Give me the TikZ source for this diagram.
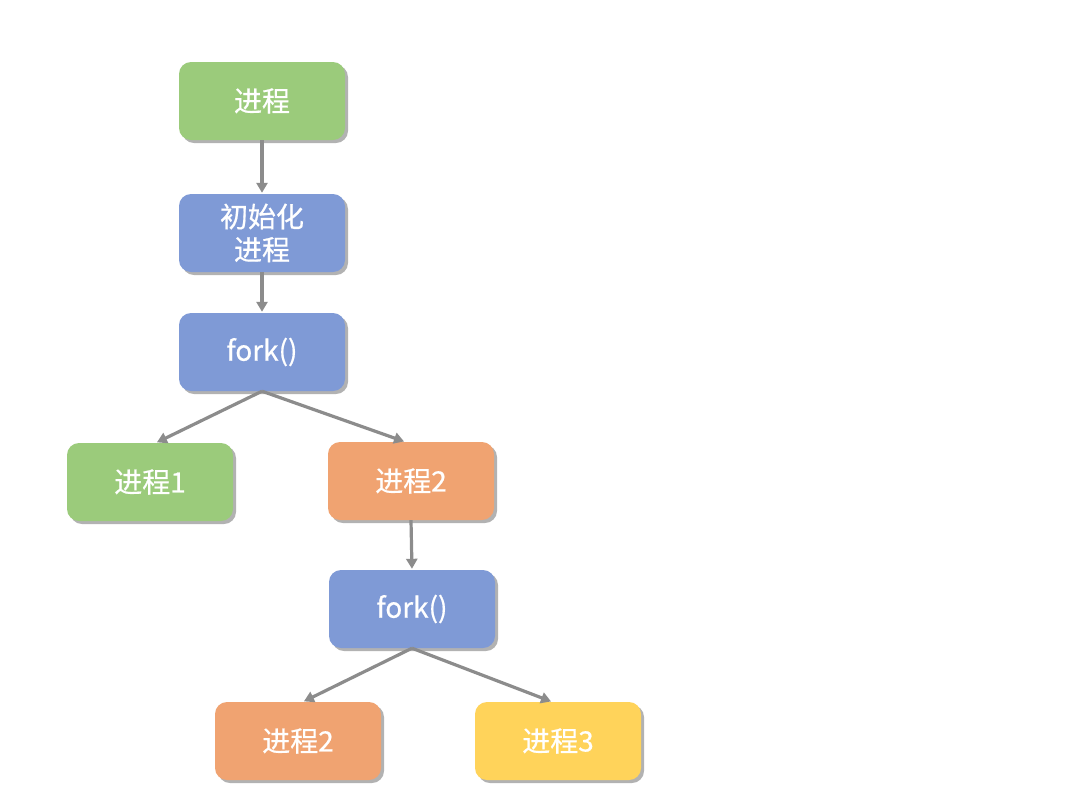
\documentclass[tikz,border=0pt]{standalone}
\usepackage{fontspec}
\setmainfont{Noto Sans CJK SC}
\newfontfamily\boxfont{Noto Sans CJK SC}[FakeBold=0.6]
\usetikzlibrary{shadows,arrows.meta}
\definecolor{cgreen}{HTML}{9BCB7B}
\definecolor{cblue}{HTML}{7F9AD6}
\definecolor{corange}{HTML}{F0A371}
\definecolor{cyellow}{HTML}{FFD35A}
\definecolor{cline}{HTML}{8C8C8C}
\tikzset{
  box/.style={rounded corners=12pt, minimum width=166pt, minimum height=78pt,
    inner sep=0pt, text=white, align=center,
    font=\boxfont\fontsize{28}{33}\selectfont,
    drop shadow={shadow xshift=3pt, shadow yshift=-3pt, fill=black, opacity=0.3}},
  conn/.style={draw=cline, line width=3.2pt, -{Triangle[length=10pt,width=11pt]}, shorten >=1pt}
}
\begin{document}
\begin{tikzpicture}[x=1pt,y=-1pt]
\useasboundingbox[fill=white] (0,0) rectangle (1080,804);
\node[box, fill=cgreen] (p0) at (262,101) {进程};
\node[box, fill=cblue] (init) at (262,233) {初始化\\进程};
\node[box, fill=cblue] (f1) at (262,352) {fork()};
\node[box, fill=cgreen] (p1) at (150,482) {进程1};
\node[box, fill=corange] (p2) at (411,481) {进程2};
\node[box, fill=cblue] (f2) at (412,609) {fork()};
\node[box, fill=corange] (p2b) at (298,741) {进程2};
\node[box, fill=cyellow] (p3) at (558,741) {进程3};
\draw[conn] (p0.south) -- (init.north);
\draw[conn] (init.south) -- (f1.north);
\draw[conn] (f1.south) -- ([xshift=6pt]p1.north);
\draw[conn] (f1.south) -- ([xshift=-6pt]p2.north);
\draw[conn] (p2.south) -- (f2.north);
\draw[conn] (f2.south) -- ([xshift=5pt]p2b.north);
\draw[conn] (f2.south) -- ([xshift=-6pt]p3.north);
\end{tikzpicture}
\end{document}
